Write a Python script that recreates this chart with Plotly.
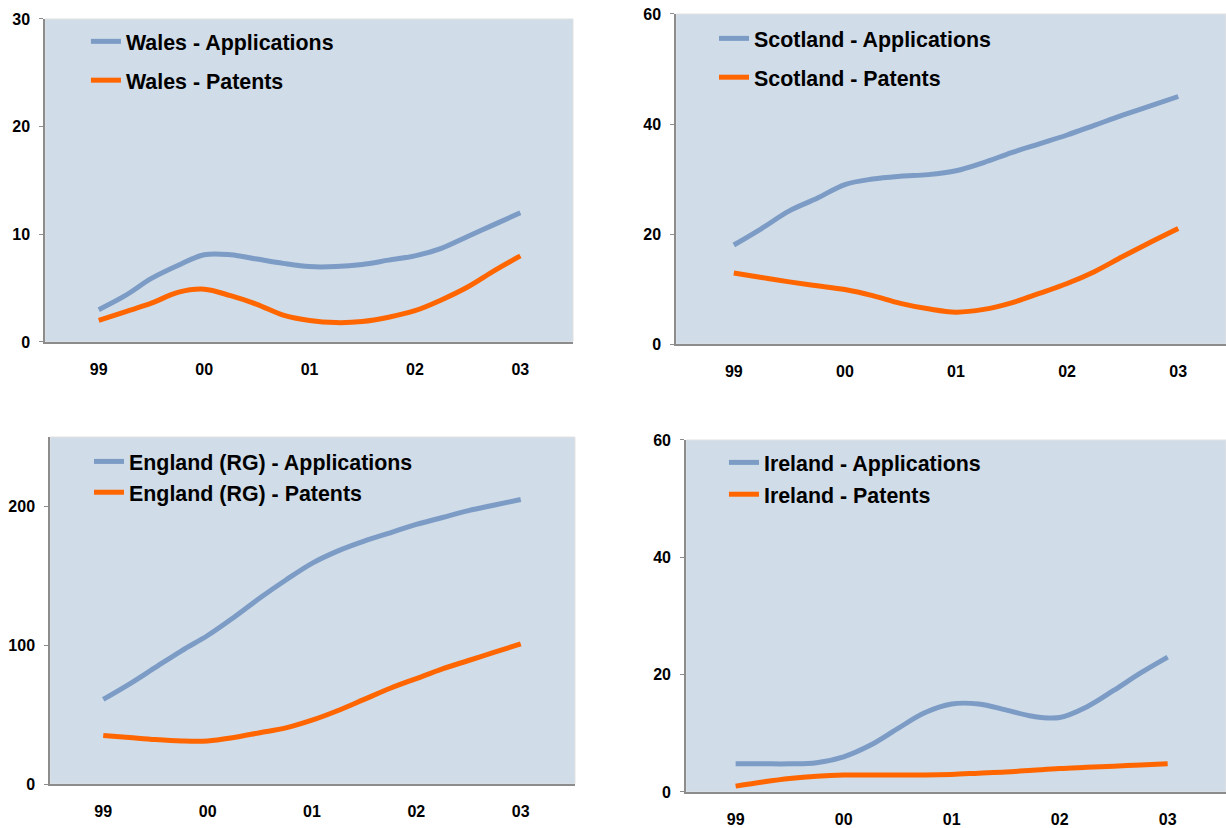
import plotly.graph_objects as go

# quarter positions in years since 1999
t = [0, 0.25, 0.5, 0.75, 1.0, 1.25, 1.5, 1.75, 2.0, 2.25, 2.5, 2.75, 3.0, 3.25, 3.5, 3.75, 4.0]
year_ticks = [0, 1, 2, 3, 4]
year_labels = ["99", "00", "01", "02", "03"]

wales_apps = [3.0, 4.3, 5.9, 7.1, 8.1, 8.1, 7.7, 7.3, 7.0, 7.0, 7.2, 7.6, 8.0, 8.7, 9.8, 10.9, 12.0]
wales_pats = [2.0, 2.8, 3.6, 4.6, 4.9, 4.3, 3.5, 2.5, 2.0, 1.8, 1.9, 2.3, 2.9, 3.9, 5.1, 6.6, 8.0]

scot_apps = [18, 21, 24.2, 26.5, 29, 30.0, 30.5, 30.8, 31.5, 33, 34.8, 36.4, 38, 39.8, 41.6, 43.3, 45]
scot_pats = [12.9, 12.1, 11.3, 10.6, 9.9, 8.8, 7.4, 6.4, 5.8, 6.3, 7.5, 9.2, 11, 13.2, 15.9, 18.5, 21]

eng_apps = [61, 72, 84, 96, 107, 120, 134, 147, 159, 168, 175, 181, 187, 192, 197, 201, 205]
eng_pats = [35, 33.5, 32, 31, 31, 33.5, 37, 40.5, 46, 53, 61, 69, 76, 83, 89, 95, 101]

ire_apps = [4.8, 4.8, 4.8, 5.0, 6.0, 8.0, 10.8, 13.5, 15.0, 15.0, 14.0, 12.9, 12.7, 14.5, 17.3, 20.3, 23]
ire_pats = [1.0, 1.7, 2.3, 2.7, 2.9, 2.9, 2.9, 2.9, 3.0, 3.2, 3.4, 3.7, 4.0, 4.2, 4.4, 4.6, 4.8]

BLUE = "#7c9cc6"
ORANGE = "#ff6600"
BG = "#d0dce8"
AXIS = "#8c8c8c"
FONT = "Liberation Sans"

panels = [
    # name, apps, pats, xdomain, ydomain, xrange, yrange, ytickvals, legend pos, gap
    ("Wales", wales_apps, wales_pats, [0.0367, 0.4674], [0.5870, 0.9771], [-0.51, 4.5], [0, 30], [0, 10, 20, 30], (0.0701, 0.9747), 8),
    ("Scotland", scot_apps, scot_pats, [0.5514, 1.0], [0.5845, 0.9831], [-0.52, 4.43], [0, 60], [0, 20, 40, 60], (0.5824, 0.9783), 8),
    ("England (RG)", eng_apps, eng_pats, [0.0408, 0.4690], [0.0531, 0.4722], [-0.51, 4.52], [0, 250], [0, 100, 200], (0.0726, 0.4674), 0),
    ("Ireland", ire_apps, ire_pats, [0.5595, 1.0], [0.0435, 0.4686], [-0.46, 4.54], [0, 60], [0, 20, 40, 60], (0.5905, 0.4662), 1),
]

fig = go.Figure()
layout = dict(
    width=1226, height=828,
    margin=dict(l=0, r=0, t=0, b=0, autoexpand=False),
    paper_bgcolor="white",
    plot_bgcolor=BG,
    font=dict(family=FONT, size=16, color="black", weight="bold"),
    shapes=[],
)

for i, (name, apps, pats, xd, yd, xr, yr, ytv, lpos, gap) in enumerate(panels):
    n = i + 1
    xa = "x" if n == 1 else f"x{n}"
    ya = "y" if n == 1 else f"y{n}"
    lg = "legend" if n == 1 else f"legend{n}"
    fig.add_trace(go.Scatter(x=t, y=apps, mode="lines", name=f"{name} - Applications",
                             line=dict(color=BLUE, width=5, shape="spline", smoothing=1.0),
                             xaxis=xa, yaxis=ya, legend=lg, legendgroup=f"a{n}"))
    fig.add_trace(go.Scatter(x=t, y=pats, mode="lines", name=f"{name} - Patents",
                             line=dict(color=ORANGE, width=5, shape="spline", smoothing=1.0),
                             xaxis=xa, yaxis=ya, legend=lg, legendgroup=f"p{n}"))
    xkey = "xaxis" if n == 1 else f"xaxis{n}"
    ykey = "yaxis" if n == 1 else f"yaxis{n}"
    layout[xkey] = dict(domain=xd, range=xr, anchor=ya, tickmode="array", tickvals=year_ticks,
                        ticktext=year_labels, showgrid=False, zeroline=False, showline=True,
                        linecolor=AXIS, linewidth=1.5, ticks="", ticklabelstandoff=12,
                        automargin=False,
                        tickfont=dict(family=FONT, size=16, weight="bold"))
    layout[ykey] = dict(domain=yd, range=yr, anchor=xa, tickmode="array", tickvals=ytv,
                        showgrid=False, zeroline=False, showline=True, linecolor=AXIS,
                        linewidth=1.5, ticks="outside", ticklen=4, tickcolor=AXIS,
                        ticklabelstandoff=6, automargin=False,
                        tickfont=dict(family=FONT, size=16, weight="bold"))
    layout[lg] = dict(x=lpos[0], y=lpos[1], xanchor="left", yanchor="top",
                      bgcolor="rgba(0,0,0,0)", borderwidth=0, tracegroupgap=gap,
                      font=dict(family=FONT, size=21.4, weight="bold", color="black"))
    layout["shapes"].append(dict(type="rect", xref=f"{xa} domain", yref=f"{ya} domain",
                                 x0=0, x1=1, y0=0, y1=1, line=dict(color="#e2e2e2", width=1),
                                 fillcolor="rgba(0,0,0,0)", layer="below"))

fig.update_layout(**layout)
fig.write_html("out.html", config={"displayModeBar": False},
               post_script="document.body.style.margin='0';document.body.style.overflow='hidden';")
